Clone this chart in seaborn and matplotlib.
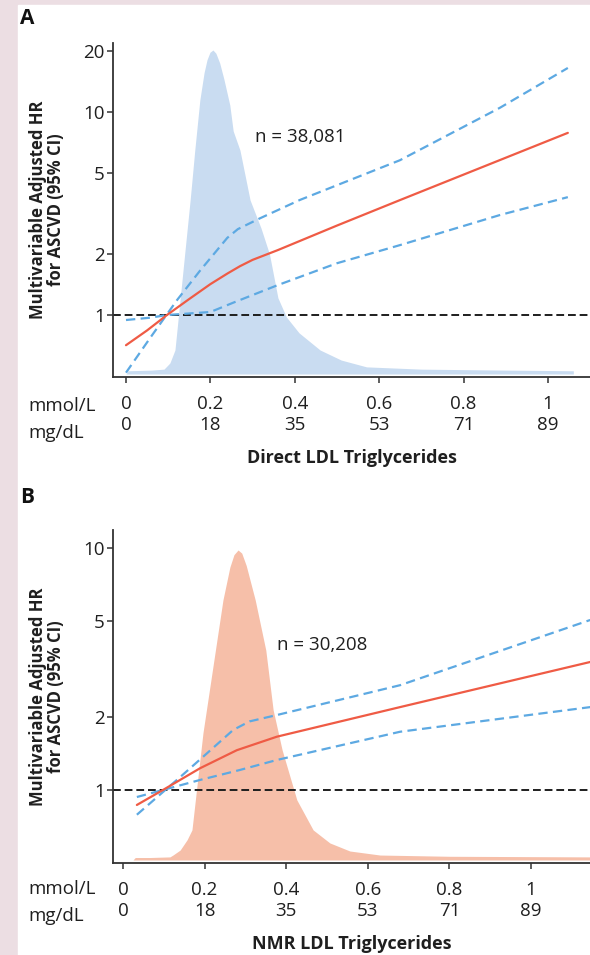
import numpy as np
import matplotlib
matplotlib.use('Agg')
import matplotlib.pyplot as plt
import seaborn as sns
from matplotlib.ticker import NullLocator
from matplotlib.patches import Rectangle

# --------------------------------------------------
# shared x axis (LDL triglycerides)
mmol_ticks = [0, 0.2, 0.4, 0.6, 0.8, 1.0]
mmol_labels = ['0', '0.2', '0.4', '0.6', '0.8', '1']
mgdl_labels = ['0', '18', '35', '53', '71', '89']

# panel A: direct LDL triglycerides
a_yticks = [1, 2, 5, 10, 20]
a_dens_x = [0.0, 0.005, 0.06, 0.09, 0.104, 0.116, 0.128, 0.14, 0.152, 0.163,
            0.175, 0.185, 0.192, 0.199, 0.206, 0.213, 0.222, 0.232, 0.246,
            0.254, 0.27, 0.294, 0.32, 0.34, 0.36, 0.38, 0.41, 0.46, 0.51,
            0.57, 0.7, 0.9, 1.06]
a_dens_h = [0.0, 0.01, 0.012, 0.015, 0.034, 0.074, 0.228, 0.383, 0.537, 0.691,
            0.846, 0.93, 0.97, 0.993, 1.0, 0.99, 0.96, 0.91, 0.83,
            0.75, 0.691, 0.537, 0.45, 0.37, 0.235, 0.176, 0.127, 0.074, 0.043,
            0.022, 0.015, 0.012, 0.01]
a_hr_x = [0.0, 0.05, 0.097, 0.15, 0.2, 0.24, 0.27, 0.3, 0.36, 0.5, 0.65, 0.8,
          1.047]
a_hr = [0.71, 0.84, 1.0, 1.2, 1.42, 1.6, 1.74, 1.87, 2.09, 2.76, 3.69, 4.92,
        7.9]
a_up_x = [0.0, 0.057, 0.121, 0.175, 0.216, 0.24, 0.265, 0.318, 0.412, 0.649,
          0.886, 1.047]
a_up = [0.52, 0.77, 1.185, 1.65, 2.09, 2.4, 2.65, 3.0, 3.69, 5.79, 10.5, 16.5]
a_lo_x = [0.0, 0.057, 0.097, 0.2, 0.254, 0.358, 0.5, 0.649, 0.886, 1.047]
a_lo = [0.945, 0.97, 1.0, 1.035, 1.15, 1.4, 1.8, 2.21, 3.11, 3.81]
a_n = 'n = 38,081'

# panel B: NMR LDL triglycerides
b_yticks = [1, 2, 5, 10]
b_dens_x = [0.0245, 0.03, 0.066, 0.115, 0.1225, 0.14, 0.157, 0.169, 0.196,
            0.245, 0.262, 0.272, 0.282, 0.291, 0.302, 0.324, 0.35, 0.368,
            0.39, 0.426, 0.466, 0.507, 0.556, 0.63, 0.8, 1.145]
b_dens_h = [0.0, 0.008, 0.008, 0.01, 0.016, 0.032, 0.065, 0.097, 0.41,
            0.839, 0.945, 0.985, 1.0, 0.99, 0.95, 0.839, 0.677, 0.484,
            0.355, 0.194, 0.097, 0.055, 0.029, 0.016, 0.012, 0.01]
b_hr_x = [0.034, 0.098, 0.189, 0.279, 0.377, 0.679, 1.145]
b_hr = [0.867, 1.0, 1.23, 1.46, 1.66, 2.2, 3.38]
b_up_x = [0.034, 0.14, 0.196, 0.27, 0.31, 0.377, 0.679, 1.145]
b_up = [0.79, 1.13, 1.37, 1.77, 1.92, 2.04, 2.71, 5.04]
b_lo_x = [0.034, 0.098, 0.189, 0.287, 0.377, 0.679, 1.145]
b_lo = [0.935, 1.0, 1.1, 1.21, 1.33, 1.74, 2.2]
b_n = 'n = 30,208'

PINK = '#ecdee3'
PLOT_BG = '#eef4fb'
RED = '#ef5b45'
BLUE = '#5da9e2'
TXT = '#1f1f1f'
W, H = 590, 955

sns.set_theme(style='ticks')
plt.rcParams['font.family'] = ['Open Sans', 'DejaVu Sans']


def px(x, y, w, h):
    """pixel box -> figure fraction rect"""
    return [x / W, 1 - (y + h) / H, w / W, h / H]


def panel(fig, rect, xlim, ylim, dlim, yticks, dens_x, dens_h, dens_color,
          hr_x, hr, up_x, up, lo_x, lo, ntext, npos, title):
    # background axes holds the distribution
    axd = fig.add_axes(rect)
    axd.set_facecolor(PLOT_BG)
    axd.fill_between(dens_x, 0, dens_h, color=dens_color, lw=0)
    axd.set_xlim(xlim)
    axd.set_ylim(dlim)
    axd.axis('off')
    axd.patch.set_visible(True)

    ax = fig.add_axes(rect, sharex=axd)
    ax.patch.set_alpha(0)
    ax.set_yscale('log')
    ax.set_ylim(ylim)
    ax.set_xlim(xlim)
    ax.axhline(1, color='#1e1e1e', lw=1.4, ls=(0, (4, 2)), zorder=2)
    sns.lineplot(x=up_x, y=up, ax=ax, color=BLUE, lw=1.6,
                 linestyle=(0, (4.2, 2.4)), zorder=3)
    sns.lineplot(x=lo_x, y=lo, ax=ax, color=BLUE, lw=1.6,
                 linestyle=(0, (4.2, 2.4)), zorder=3)
    sns.lineplot(x=hr_x, y=hr, ax=ax, color=RED, lw=1.6, zorder=4)

    ax.yaxis.set_minor_locator(NullLocator())
    ax.set_yticks(yticks)
    ax.set_yticklabels([str(t) for t in yticks])
    ax.set_xticks(mmol_ticks)
    ax.set_xticklabels([a + '\n' + b for a, b in zip(mmol_labels, mgdl_labels)],
                       linespacing=1.2)
    ax.tick_params(axis='both', direction='out', length=4, width=1.1,
                   color='#333333', labelsize=13.5, labelcolor=TXT)
    ax.tick_params(axis='x', pad=9)
    ax.tick_params(axis='y', pad=2)
    for s in ['top', 'right']:
        ax.spines[s].set_visible(False)
    for s in ['left', 'bottom']:
        ax.spines[s].set_linewidth(1.3)
        ax.spines[s].set_color('#333333')

    ax.set_ylabel('Multivariable Adjusted HR\nfor ASCVD (95% CI)',
                  fontsize=12, fontweight='bold', color=TXT,
                  linespacing=1.0, labelpad=13)
    ax.set_xlabel(title, fontsize=13, fontweight='bold', color=TXT,
                  labelpad=11)
    ax.text(npos[0], npos[1], ntext, fontsize=13.5, color=TXT,
            va='center', ha='left')
    return ax


fig = plt.figure(figsize=(W / 100, H / 100), dpi=100)
fig.patch.set_facecolor(PINK)
fig.patches.append(Rectangle((18 / W, 0), 1, 1 - 5 / H,
                             transform=fig.transFigure, color='white',
                             zorder=-10))

panel(fig, px(113, 43, 477, 334), (-13 / 422, 464 / 422), (0.495, 21.9),
      (-3 / 324, 331 / 324), a_yticks, a_dens_x, a_dens_h, '#c9dcf1',
      a_hr_x, a_hr, a_up_x, a_up, a_lo_x, a_lo, a_n, (0.306, 7.5),
      'Direct LDL Triglycerides')
panel(fig, px(113, 530, 477, 333), (-10 / 408, 467 / 408), (0.499, 11.87),
      (-3 / 310, 330 / 310), b_yticks, b_dens_x, b_dens_h, '#f6bfa9',
      b_hr_x, b_hr, b_up_x, b_up, b_lo_x, b_lo, b_n, (0.377, 3.97),
      'NMR LDL Triglycerides')

for ypix in (406, 889):
    fig.text(28 / W, 1 - ypix / H, 'mmol/L', fontsize=13.5, color=TXT,
             va='center', ha='left')
    fig.text(28 / W, 1 - (ypix + 27) / H, 'mg/dL', fontsize=13.5,
             color=TXT, va='center', ha='left')

fig.text(20 / W, 1 - 18 / H, 'A', fontsize=15, fontweight='bold',
         color='#111111', va='center', ha='left')
fig.text(20 / W, 1 - 497 / H, 'B', fontsize=15, fontweight='bold',
         color='#111111', va='center', ha='left')

plt.savefig('out.png', dpi=100, facecolor=fig.get_facecolor())
